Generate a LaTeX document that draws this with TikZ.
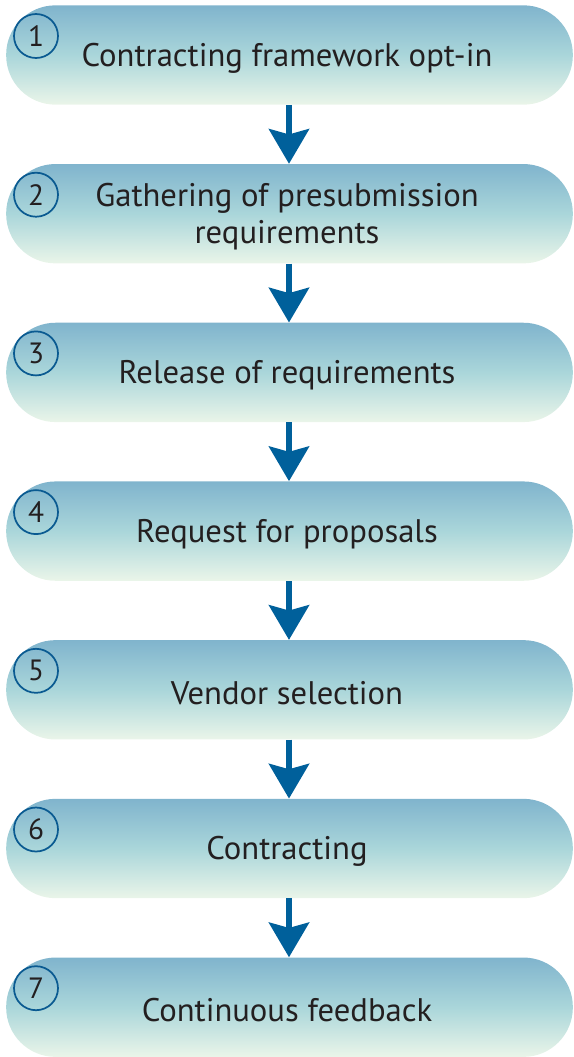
\documentclass[tikz,border=0pt]{standalone}
\usepackage{fontspec}
\setmainfont{PT Sans}
\usetikzlibrary{arrows.meta}
\definecolor{topc}{RGB}{128,180,205}
\definecolor{midc}{RGB}{170,214,218}
\definecolor{botc}{RGB}{234,245,233}
\definecolor{arrowc}{RGB}{0,96,155}
\definecolor{circc}{RGB}{10,90,145}
\definecolor{txtc}{RGB}{35,31,32}
\tikzset{
  stepbox/.style={rectangle, rounded corners=37pt, minimum width=425pt, minimum height=74.5pt,
    top color=topc, bottom color=botc, middle color=midc, draw=none, inner sep=0pt},
  steptext/.style={font=\fontsize{24.5}{28}\selectfont, text=txtc, align=center},
  numcirc/.style={circle, draw=circc, line width=1.3pt, minimum size=33pt, inner sep=0pt,
    font=\fontsize{22}{22}\selectfont, text=txtc},
  flow/.style={draw=arrowc, line width=4.5pt, -{Stealth[width=30pt,length=26pt,inset=4pt]}}
}
\begin{document}
\begin{tikzpicture}[x=0.75pt,y=-0.75pt]
\useasboundingbox (0,0) rectangle (574,1057);
\foreach \i/\t [count=\k] in {1/{Contracting framework opt-in},
  2/{Gathering of presubmission\\requirements},
  3/{Release of requirements},
  4/{Request for proposals},
  5/{Vendor selection},
  6/{Contracting},
  7/{Continuous feedback}} {
  \pgfmathsetmacro{\yc}{55+(\i-1)*158.7}
  \node[stepbox] (b\i) at (289.5,\yc) {};
  \node[steptext] (t\i) at (287,\yc+3) {\t};
  \node[numcirc] (n\i) at (36,\yc-19) {\i};
}
\foreach \a/\b in {1/2,2/3,3/4,4/5,5/6,6/7}
  \draw[flow] (b\a.south -| 289,0) -- (b\b.north -| 289,0);
\end{tikzpicture}
\end{document}
